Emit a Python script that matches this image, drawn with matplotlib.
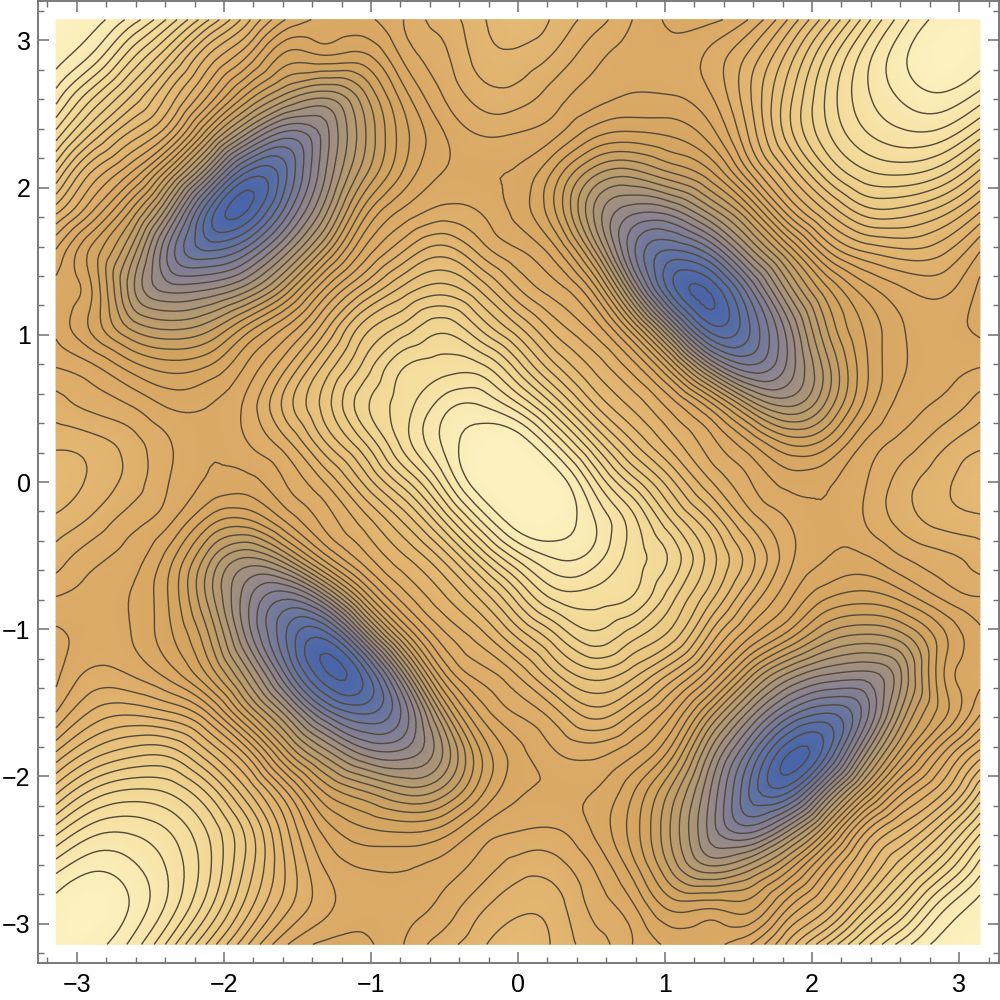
'''
Filled contour map, values read off the reference on a pi/12 grid
'''

import numpy as np
import matplotlib
matplotlib.use('Agg')
import matplotlib.pyplot as plt
from matplotlib.colors import LinearSegmentedColormap, Normalize
from matplotlib.ticker import MultipleLocator
from matplotlib.tri import Triangulation, UniformTriRefiner

# values in contour steps, read by counting lines from the saddle level (0)
# x >= 0, y >= 0: row a holds y index a..12 at x index a (map is mirrored in y = x)
upper_right = [
    [16.8, 16.2, 12.7, 9.0, 5.7, 2.6, 0.6, -0.85, -0.7, 0.4, 2.0, 3.2, 4.4],
    [13.4, 9.2, 5.6, 3.0, 0.9, -1.3, -3.6, -3.0, -0.4, 0.9, 2.2, 3.2],
    [5.5, 3.2, 1.0, -2.1, -6.5, -8.7, -6.3, -2.3, -0.1, 0.75, 2.0],
    [0.9, -3.5, -10.0, -13.3, -11.3, -7.0, -2.8, -0.6, 0.0, 0.45],
    [-11.0, -17.1, -15.6, -11.0, -5.6, -2.4, -0.55, -0.15, -0.7],
    [-18.3, -13.8, -8.2, -3.8, -1.0, 0.4, 0.8, -0.75],
    [-9.0, -4.4, 0.3, 2.6, 3.3, 2.8, 0.55],
    [0.8, 4.4, 6.9, 7.0, 5.9, 3.5],
    [8.0, 10.2, 10.6, 9.7, 7.1],
    [12.3, 13.2, 13.0, 10.9],
    [14.7, 15.3, 14.1],
    [16.5, 15.9],
    [16.3],
]
# x <= 0, y >= 0: row c holds y index c..12 at |x| index c
upper_left = [
    [16.8, 16.2, 12.7, 9.0, 5.7, 2.6, 0.6, -0.85, -0.7, 0.4, 2.0, 3.2, 4.4],
    [16.3, 14.5, 11.8, 8.4, 5.4, 2.2, 0.5, -0.4, 0.5, 1.9, 2.9, 3.2],
    [13.9, 12.0, 10.2, 7.0, 4.0, 0.9, -0.5, -0.7, 0.4, 1.15, 2.0],
    [11.4, 8.8, 5.8, 2.4, -0.25, -2.4, -3.0, -2.1, -0.4, 0.45],
    [7.0, 3.2, -0.3, -3.0, -5.8, -6.7, -5.8, -2.9, -0.7],
    [-0.3, -5.0, -8.7, -10.5, -10.9, -8.3, -2.8, -0.75],
    [-9.8, -13.8, -15.5, -13.1, -7.0, -3.0, 0.4],
    [-18.3, -16.9, -10.0, -4.0, 0.2, 3.7],
    [-11.2, -4.8, 0.2, 3.1, 7.4],
    [1.0, 4.0, 7.0, 11.0],
    [7.3, 10.5, 14.0],
    [14.0, 15.9],
    [16.3],
]
contour_levels = np.arange(-19.5, 16.0, 1.0)
color_values = [-20, -16, -12, -8, -4, 0, 4, 8, 12, 16.6]
color_stops = ['#4060ac', '#5f72a4', '#8d8490', '#b49a72', '#d2a45f', '#dbaa66',
               '#e3b873', '#ebcb85', '#f5de9e', '#fcf2c0']


def read_value(ix, iy):
    # the map repeats under a half turn, so the lower half comes from the upper one
    if iy < 0:
        ix, iy = -ix, -iy
    table = upper_right if ix >= 0 else upper_left
    lo, hi = sorted((abs(ix), iy))
    return table[lo][hi - lo]


steps = np.arange(-12, 13)
x = steps * np.pi / 12
grid = np.array([[read_value(ix, iy) for ix in steps] for iy in steps])

xx, yy = np.meshgrid(x, x)
tri = Triangulation(xx.ravel(), yy.ravel())
fine_tri, fine_z = UniformTriRefiner(tri).refine_field(grid.ravel(), subdiv=3)

lo_v, hi_v = color_values[0], color_values[-1]
cmap = LinearSegmentedColormap.from_list(
    'map', [((v - lo_v) / (hi_v - lo_v), c) for v, c in zip(color_values, color_stops)])

fig = plt.figure(figsize=(10, 10), dpi=100)
ax = fig.add_axes([0.0375, 0.037, 0.961, 0.962])
ax.tripcolor(fine_tri, fine_z, shading='gouraud', cmap=cmap, norm=Normalize(lo_v, hi_v))
ax.tricontour(fine_tri, fine_z, levels=contour_levels, colors='#54493a', linewidths=1.0,
              linestyles='solid')

ax.set_xlim(-3.268, 3.268)
ax.set_ylim(-3.268, 3.268)
for axis in (ax.xaxis, ax.yaxis):
    axis.set_major_locator(MultipleLocator(1))
    axis.set_minor_locator(MultipleLocator(0.2))
ax.tick_params(which='both', direction='in', top=True, right=True, color='#707070')
ax.tick_params(which='major', length=8, width=1.1)
ax.tick_params(which='minor', length=4.5, width=1.0)
ax.tick_params(axis='x', which='major', labelsize=18, pad=7)
ax.tick_params(axis='y', which='major', labelsize=18, pad=5)
for label in ax.get_xticklabels() + ax.get_yticklabels():
    label.set_fontfamily('Liberation Sans')
for spine in ax.spines.values():
    spine.set_color('#707070')
    spine.set_linewidth(1.3)

fig.savefig('out.png', dpi=100)
